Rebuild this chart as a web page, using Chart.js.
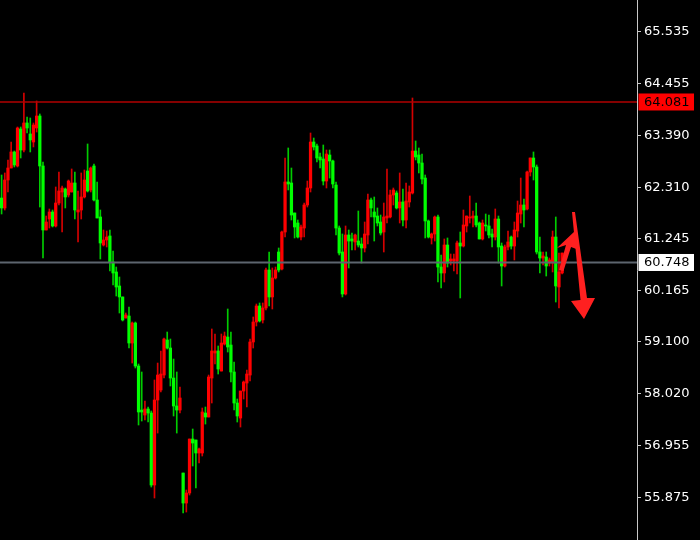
<!DOCTYPE html>
<html><head><meta charset="utf-8">
<script src="https://cdn.jsdelivr.net/npm/chart.js@4.4.0/dist/chart.umd.min.js"></script>
<style>html,body{margin:0;padding:0;background:#000;}canvas{display:block;}</style>
</head><body>
<canvas id="c" width="700" height="540"></canvas>
<script>
const opens=[
62.087,61.880,62.461,62.710,63.043,62.752,63.520,63.084,63.645,63.417,
63.250,63.541,63.790,62.752,61.423,61.651,61.797,61.506,61.983,62.212,
62.274,62.150,62.212,62.399,61.797,61.838,62.108,62.648,62.254,62.752,
62.046,61.693,61.111,61.215,61.298,60.758,60.551,60.260,60.032,59.595,
59.636,59.076,59.491,58.598,57.684,57.580,57.705,57.622,56.127,57.892,
58.100,58.411,59.138,58.972,58.349,57.768,57.684,56.376,55.753,55.961,
57.082,57.062,56.792,56.792,57.622,57.539,58.349,58.868,58.910,58.494,
59.055,59.200,59.034,58.474,57.830,57.518,58.079,58.245,58.411,59.097,
59.512,59.845,59.554,59.803,60.592,60.032,60.426,60.966,60.613,61.381,
62.420,62.399,61.776,61.568,61.277,61.464,61.942,62.295,63.250,63.167,
62.939,62.897,62.440,62.980,62.856,62.357,61.464,60.966,60.094,61.319,
61.236,61.174,61.194,61.132,61.049,61.319,62.046,61.797,61.713,61.589,
61.381,61.672,61.693,62.150,62.191,61.880,62.004,61.630,62.004,62.191,
63.063,62.980,62.814,62.502,61.610,61.257,61.340,61.693,60.654,60.530,
61.111,60.779,60.779,60.779,61.153,61.090,61.506,61.672,61.672,61.713,
61.568,61.236,61.527,61.506,61.340,61.277,61.651,61.090,60.675,61.070,
61.277,61.090,61.402,61.755,61.942,61.859,62.627,62.918,62.731,60.966,
60.841,60.862,60.737,60.737,61.277,60.239,60.530];
const highs=[
62.565,62.607,62.877,63.250,63.063,63.562,63.562,64.268,63.770,63.749,
63.645,64.102,63.832,62.835,61.713,61.859,61.838,62.316,62.627,62.337,
62.295,62.461,62.690,62.627,62.233,62.607,62.669,63.209,62.731,62.794,
62.420,61.838,61.423,61.402,61.423,60.987,60.654,60.447,60.032,59.699,
59.824,59.512,59.512,58.640,58.474,57.871,57.747,57.664,58.308,58.660,
58.910,59.180,59.304,59.159,58.743,58.474,58.162,56.376,56.023,57.082,
57.290,57.062,56.895,57.726,57.747,58.411,59.367,59.263,59.014,59.263,
59.304,59.782,59.304,58.681,57.913,58.079,58.287,58.515,59.159,59.616,
59.886,59.907,59.907,60.634,60.966,60.634,60.654,61.049,61.402,62.918,
63.126,62.710,61.776,61.630,61.527,61.983,62.440,63.437,63.333,63.209,
63.022,63.188,63.084,63.084,62.877,62.420,61.506,61.340,61.506,61.423,
61.360,61.340,61.817,61.257,61.589,62.170,62.087,62.108,61.880,61.734,
61.983,62.690,62.254,62.295,62.233,62.607,62.274,62.399,62.337,64.164,
63.271,63.126,63.001,62.565,61.630,61.360,61.713,61.734,60.904,61.236,
61.257,60.924,60.924,61.194,61.381,61.838,61.713,62.129,61.817,61.983,
61.589,61.630,61.755,61.734,61.443,61.859,61.713,61.153,61.111,61.402,
61.298,61.589,62.025,62.502,62.067,62.648,62.918,63.043,62.773,61.277,
60.966,60.966,60.841,61.402,61.693,60.945,60.945];
const lows=[
61.755,61.838,62.212,62.710,62.731,62.731,62.918,63.043,63.437,63.043,
63.147,63.458,61.900,60.841,61.423,61.464,61.485,61.485,61.942,61.381,
61.880,62.108,62.212,61.651,61.174,61.651,62.087,62.212,62.212,62.025,
61.672,60.821,61.090,61.070,60.571,60.281,60.052,59.699,59.533,59.595,
58.972,58.660,58.557,57.373,57.456,57.477,57.435,56.085,55.857,57.206,
58.058,58.349,58.951,58.183,57.560,57.206,57.622,55.546,55.566,55.919,
56.522,56.065,56.584,56.729,57.393,57.539,57.830,58.640,58.432,58.494,
59.034,58.889,58.266,57.684,57.435,57.331,57.913,57.747,58.287,58.972,
59.429,59.512,59.491,59.761,59.845,59.782,60.405,60.551,60.592,61.277,
62.254,61.630,61.257,61.257,61.215,61.277,61.900,62.212,63.084,62.835,
62.710,62.357,62.295,62.502,62.295,61.319,60.904,60.032,60.073,60.634,
61.007,61.007,61.070,60.737,60.966,61.132,61.693,61.194,61.506,61.319,
60.966,61.568,61.672,61.942,61.859,61.568,61.506,61.464,61.900,62.170,
62.877,62.607,62.378,61.257,61.257,61.132,61.194,60.343,60.218,60.343,
60.654,60.696,60.571,60.509,60.011,61.070,61.381,61.568,61.485,61.485,
61.236,61.215,61.402,61.257,61.070,61.215,60.737,60.260,60.654,61.007,
61.028,60.800,61.277,61.568,61.485,61.838,62.544,62.461,60.924,60.530,
60.696,60.467,60.675,60.551,59.927,59.803,60.509];
const closes=[
61.880,62.461,62.710,63.043,62.773,63.541,63.084,63.645,63.541,63.292,
63.603,63.790,62.752,61.423,61.589,61.797,61.506,61.983,62.233,62.295,
62.108,62.440,62.399,61.838,61.838,62.108,62.461,62.233,62.710,62.046,
61.672,61.153,61.215,61.277,60.758,60.530,60.239,60.032,59.554,59.658,
59.076,59.491,58.598,57.643,57.643,57.705,57.622,56.127,57.892,58.411,
58.432,59.159,58.972,58.349,57.768,57.684,57.934,55.753,55.961,57.082,
56.999,56.792,56.875,57.643,57.539,58.370,58.910,58.910,58.536,59.076,
59.221,58.993,58.474,57.830,57.560,58.079,58.266,58.432,59.097,59.512,
59.845,59.533,59.803,60.592,60.032,60.426,60.592,60.592,61.381,62.420,
62.378,61.734,61.485,61.277,61.485,61.942,62.295,63.250,63.147,62.918,
62.877,62.440,63.001,62.856,62.378,61.464,60.945,60.094,61.319,61.194,
61.194,61.319,61.111,61.049,61.340,62.046,61.880,61.693,61.568,61.360,
61.693,61.713,62.150,62.254,61.880,62.004,61.630,62.025,62.212,63.063,
62.939,62.814,62.482,61.610,61.277,61.340,61.693,60.654,60.530,61.111,
60.737,60.821,60.821,61.153,61.090,61.527,61.713,61.693,61.713,61.527,
61.236,61.568,61.506,61.319,61.277,61.651,61.070,60.675,61.070,61.174,
61.090,61.423,61.776,61.942,61.838,62.627,62.918,62.731,60.966,60.841,
60.883,60.675,60.800,61.277,60.260,60.551,60.945];
const tickValues=[65.535,64.455,63.390,62.310,61.245,60.165,59.100,58.020,56.955,55.875];
const levelValues=[64.081,60.748];
const slotCount=200;
const yMin=54.985, yMax=66.199;
// annotation arrows: [slot index, price] vertices
const upArrow=[[180.03,61.402],[181.29,61.007],[178.78,61.070],[176.42,60.571],[175.01,60.592],[177.21,61.111],[174.38,61.049]];
const downArrow=[[179.09,61.797],[180.03,61.797],[183.80,60.010],[186.32,60.010],[182.86,59.574],[178.78,59.948],[181.76,59.969]];

const UP='#ff0000', DOWN='#00ff00';
const WICK_UP='#d40000', WICK_DOWN='#00cc00';
const labels=Array.from({length:slotCount},(_,i)=>String(i));
const isUp=i=>closes[i]>=opens[i];

const levelStyle=[
  {line:'#b00000',width:1.5,box:'#ff0000',text:'#000000'},
  {line:'#5d656e',width:2,box:'#ffffff',text:'#000000'}
];

const overlay={
  id:'overlay',
  afterDatasetsDraw(chart){
    const {ctx,chartArea:a,scales:{x,y}}=chart;
    ctx.save();
    levelValues.forEach((v,k)=>{
      const st=levelStyle[k];
      const py=y.getPixelForValue(v);
      ctx.strokeStyle=st.line; ctx.lineWidth=st.width;
      ctx.beginPath(); ctx.moveTo(a.left,py); ctx.lineTo(a.right,py); ctx.stroke();
    });
    ctx.fillStyle='#ff2020';
    [upArrow,downArrow].forEach(poly=>{
      ctx.beginPath();
      poly.forEach(([i,p],k)=>{
        const px=x.getPixelForValue(i), py=y.getPixelForValue(p);
        if(k===0) ctx.moveTo(px,py); else ctx.lineTo(px,py);
      });
      ctx.closePath(); ctx.fill();
    });
    ctx.restore();
  },
  afterDraw(chart){
    const {ctx,chartArea:a,scales:{y}}=chart;
    ctx.save();
    levelValues.forEach((v,k)=>{
      const st=levelStyle[k];
      const py=y.getPixelForValue(v);
      ctx.fillStyle=st.box;
      ctx.fillRect(a.right+1.5,py-8.5,55.5,17);
      ctx.fillStyle=st.text;
      ctx.font='13px "DejaVu Sans"';
      ctx.textBaseline='middle';
      ctx.textAlign='left';
      ctx.fillText(v.toFixed(3),a.right+7,py+0.5);
    });
    ctx.restore();
  }
};

new Chart(document.getElementById('c'),{
  type:'bar',
  data:{
    labels:labels,
    datasets:[
      {
        label:'body',
        data:opens.map((o,i)=>[o,closes[i]]),
        backgroundColor:ctx=>isUp(ctx.dataIndex)?UP:DOWN,
        barThickness:2.6,
        minBarLength:1,
        grouped:false,
        order:0,
        borderWidth:0
      },
      {
        label:'wick',
        data:lows.map((l,i)=>[l,highs[i]]),
        backgroundColor:ctx=>isUp(ctx.dataIndex)?WICK_UP:WICK_DOWN,
        barThickness:1,
        minBarLength:1,
        grouped:false,
        order:1,
        borderWidth:0
      }
    ]
  },
  options:{
    responsive:false,
    animation:false,
    devicePixelRatio:1,
    layout:{padding:0},
    plugins:{legend:{display:false},tooltip:{enabled:false}},
    scales:{
      x:{type:'category',display:false,offset:true,grid:{display:false}},
      y:{
        position:'right',
        min:yMin,max:yMax,
        afterBuildTicks:s=>{s.ticks=tickValues.map(v=>({value:v}));},
        afterFit:s=>{s.width=63;s.paddingTop=0;s.paddingBottom=0;},
        ticks:{color:'#ffffff',font:{family:'DejaVu Sans',size:13},padding:3,autoSkip:false,
               callback:v=>Number(v).toFixed(3)},
        grid:{drawOnChartArea:false,drawTicks:true,tickLength:4,color:'#c8c8c8',lineWidth:1},
        border:{display:true,color:'#c8c8c8',width:1}
      }
    }
  },
  plugins:[overlay]
});
</script>
</body></html>
